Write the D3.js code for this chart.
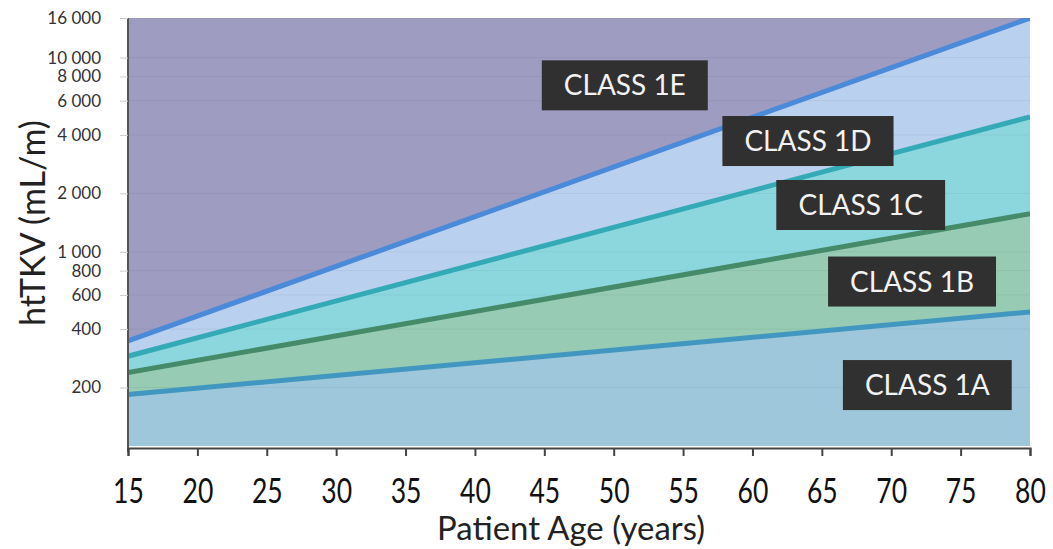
<!DOCTYPE html>
<html>
<head>
<meta charset="utf-8">
<script src="https://cdn.jsdelivr.net/npm/d3@7"></script>
<style>
  body { margin: 0; background: #fff; }
  svg { display: block; }
</style>
</head>
<body>
<div id="chart"></div>
<script>
// data (htTKV limits between classes, straight on log scale)
const ages = [15, 80];
const lim1B = [184, 490];
const lim1C = [239, 1570];
const lim1D = [290, 4950];
const lim1E = [348, 16000];

const xTicks = [15, 20, 25, 30, 35, 40, 45, 50, 55, 60, 65, 70, 75, 80];
const yTicks = [200, 400, 600, 800, 1000, 2000, 4000, 6000, 8000, 10000, 16000];

const classNames = ["CLASS 1A", "CLASS 1B", "CLASS 1C", "CLASS 1D", "CLASS 1E"];
// label centres in data units (age, htTKV)
const labelAge = [72.6, 71.5, 67.8, 64.0, 50.8];
const labelVal = [206, 703, 1742, 3720, 7200];

// plot design
const FRAME_WIDTH = 1053;
const FRAME_HEIGHT = 549;
const MARGINS = {left: 128, right: 23, top: 18, bottom: 103};
const VIS_WIDTH = FRAME_WIDTH - MARGINS.left - MARGINS.right;
const VIS_HEIGHT = FRAME_HEIGHT - MARGINS.top - MARGINS.bottom;
const FONT = "Lato, 'Open Sans', sans-serif";

const fills = ["#9fc7db", "#97cbb3", "#8cd7de", "#b9d0ee", "#9e9cc0"];
const lineColors = ["#4297c0", "#468b69", "#34aab6", "#4a8ad9"];

const xScale = d3.scaleLinear().domain([15, 80]).range([0, VIS_WIDTH]);
const yScale = d3.scaleLog().domain([100, 16000]).range([VIS_HEIGHT, 0]);

const svg = d3.select("#chart").append("svg")
    .attr("width", FRAME_WIDTH)
    .attr("height", FRAME_HEIGHT);

const g = svg.append("g")
    .attr("transform", "translate(" + MARGINS.left + "," + MARGINS.top + ")");

g.append("clipPath").attr("id", "clip")
  .append("rect").attr("width", VIS_WIDTH).attr("height", VIS_HEIGHT);

// bands: floor, 1B, 1C, 1D, 1E, ceiling
const floorVals = ages.map(() => 100);
const ceilVals = ages.map(() => 16000);
const bounds = [floorVals, lim1B, lim1C, lim1D, lim1E, ceilVals];

const plot = g.append("g").attr("clip-path", "url(#clip)");

for (let i = 0; i < 5; i++) {
  const lo = bounds[i], hi = bounds[i + 1];
  plot.append("path")
    .datum(ages.map((a, j) => ({age: a, lo: lo[j], hi: hi[j]})))
    .attr("d", d3.area()
        .x(d => xScale(d.age))
        .y0(d => yScale(d.lo))
        .y1(d => yScale(d.hi)))
    .attr("fill", fills[i]);
}

// faint gridlines
plot.selectAll(".grid")
  .data(yTicks)
  .enter().append("line")
    .attr("x1", 0).attr("x2", VIS_WIDTH)
    .attr("y1", d => yScale(d)).attr("y2", d => yScale(d))
    .attr("stroke", "#000").attr("stroke-opacity", 0.05);

// boundary lines
[lim1B, lim1C, lim1D, lim1E].forEach((lim, i) => {
  plot.append("path")
    .datum(ages.map((a, j) => ({age: a, v: lim[j]})))
    .attr("d", d3.line().x(d => xScale(d.age)).y(d => yScale(d.v)))
    .attr("fill", "none")
    .attr("stroke", lineColors[i])
    .attr("stroke-width", 5);
});

// y axis
const yAxis = g.append("g")
    .call(d3.axisLeft(yScale).tickValues(yTicks).tickSize(8)
      .tickFormat(d => d3.format(",")(d).replace(",", " ")));
yAxis.select(".domain").attr("stroke", "#555").attr("stroke-width", 2)
    .attr("d", "M0,0V" + (VIS_HEIGHT + 6));
yAxis.selectAll(".tick line").attr("stroke", "#ccc");
yAxis.selectAll(".tick text")
    .attr("x", -27)
    .attr("font-family", FONT)
    .attr("font-size", "17px")
    .attr("fill", "#333");

// x axis
const xAxis = g.append("g")
    .attr("transform", "translate(0," + (VIS_HEIGHT + 2) + ")")
    .call(d3.axisBottom(xScale).tickValues(xTicks).tickSize(8).tickSizeOuter(8));
xAxis.select(".domain").attr("stroke", "#444").attr("stroke-width", 2);
xAxis.selectAll(".tick line").attr("stroke", "#444").attr("stroke-width", 2);
xAxis.selectAll(".tick text")
    .attr("y", 31)
    .attr("transform", "scale(0.78,1)")
    .attr("font-family", FONT)
    .attr("font-size", "34px")
    .attr("fill", "#111");

// axis titles
const xTitle = svg.append("text")
    .attr("text-anchor", "middle")
    .attr("font-family", FONT)
    .attr("font-size", "33px")
    .attr("fill", "#222")
    .text("Patient Age (years)");
const xs = 268 / xTitle.node().getBBox().width;
xTitle.attr("transform", "translate(571,540) scale(" + xs + ",1)");

svg.append("text")
    .attr("transform", "translate(45,223) rotate(-90)")
    .attr("text-anchor", "middle")
    .attr("font-family", FONT)
    .attr("font-size", "34px")
    .attr("fill", "#222")
    .text("htTKV (mL/m)");

// class labels
classNames.forEach((name, i) => {
  const cx = xScale(labelAge[i]);
  const cy = yScale(labelVal[i]);
  const lab = g.append("g").attr("transform", "translate(" + cx + "," + cy + ")");
  const box = lab.append("rect").attr("fill", "#303030");
  const t = lab.append("text")
      .attr("text-anchor", "middle")
      .attr("dy", "0.36em")
      .attr("font-family", FONT)
      .attr("font-size", "28px")
      .attr("fill", "#f2f2f2")
      .text(name);
  const w = t.node().getBBox().width + 44;
  box.attr("x", -w / 2).attr("y", -25).attr("width", w).attr("height", 50);
});
</script>
</body>
</html>
